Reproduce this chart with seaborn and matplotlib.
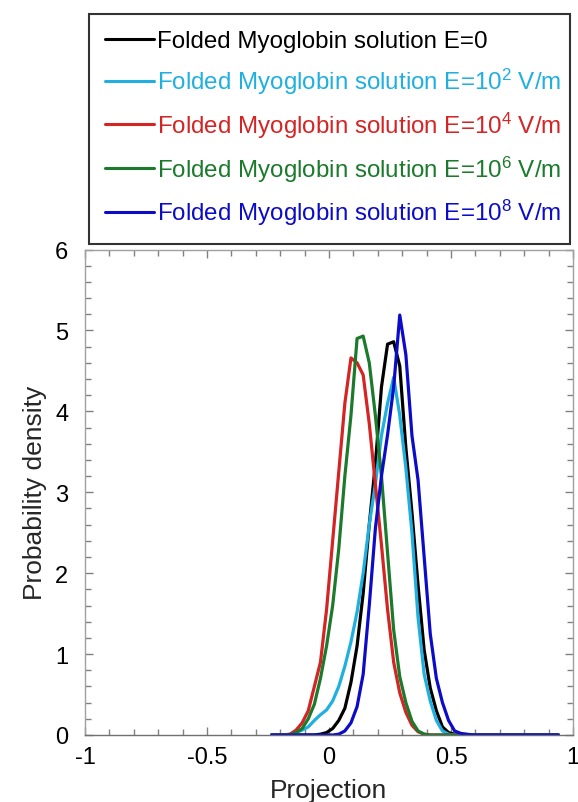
import numpy as np
import pandas as pd
import seaborn as sns
import matplotlib
matplotlib.use("Agg")
import matplotlib.pyplot as plt
from matplotlib.ticker import MultipleLocator

# Projection bins (shared by all curves)
projection = [-0.235, -0.21, -0.185, -0.16, -0.135, -0.11, -0.085, -0.06, -0.035, -0.01,
              0.015, 0.04, 0.065, 0.09, 0.115, 0.14, 0.165, 0.19, 0.215, 0.24,
              0.265, 0.29, 0.315, 0.34, 0.365, 0.39, 0.415, 0.44, 0.465, 0.49,
              0.515, 0.54, 0.565, 0.59, 0.69, 0.79, 0.94]

dens_e0 = [0, 0, 0, 0, 0, 0, 0, 0, 0.01, 0.03,
           0.08, 0.18, 0.33, 0.65, 1.1, 1.75, 2.6, 3.35, 4.3, 4.83,
           4.86, 4.56, 3.55, 2.75, 1.85, 1.05, 0.58, 0.3, 0.1, 0.03,
           0.01, 0, 0, 0, 0, 0, 0]
dens_e2 = [0, 0, 0, 0.01, 0.03, 0.06, 0.1, 0.18, 0.25, 0.31,
           0.42, 0.6, 0.85, 1.15, 1.52, 2.0, 2.6, 3.1, 3.7, 4.1,
           4.42, 3.95, 3.3, 2.5, 1.45, 0.75, 0.42, 0.18, 0.05, 0.01,
           0, 0, 0, 0, 0, 0, 0]
dens_e4 = [0, 0, 0, 0.01, 0.06, 0.15, 0.3, 0.6, 0.9, 1.55,
           2.4, 3.25, 4.1, 4.66, 4.6, 4.45, 3.85, 3.1, 2.35, 1.55,
           0.9, 0.52, 0.28, 0.12, 0.04, 0.01, 0, 0, 0, 0,
           0, 0, 0, 0, 0, 0, 0]
dens_e6 = [0, 0, 0, 0, 0.03, 0.08, 0.2, 0.38, 0.7, 1.1,
           1.6, 2.3, 3.2, 3.95, 4.9, 4.93, 4.6, 3.95, 3.2, 2.25,
           1.3, 0.72, 0.4, 0.17, 0.05, 0.01, 0, 0, 0, 0,
           0, 0, 0, 0, 0, 0, 0]
dens_e8 = [0, 0, 0, 0, 0, 0, 0, 0, 0, 0,
           0, 0.01, 0.05, 0.15, 0.35, 0.75, 1.6, 2.55, 3.2, 3.71,
           4.3, 5.19, 4.7, 3.7, 3.15, 2.2, 1.25, 0.7, 0.4, 0.18,
           0.05, 0.02, 0.01, 0, 0, 0, 0]

labels = ["Folded Myoglobin solution E=0",
          "Folded Myoglobin solution E=10$^{2}$ V/m",
          "Folded Myoglobin solution E=10$^{4}$ V/m",
          "Folded Myoglobin solution E=10$^{6}$ V/m",
          "Folded Myoglobin solution E=10$^{8}$ V/m"]
colors = ["#000000", "#1fb0e0", "#d42424", "#1b7a2c", "#0c0cc8"]
series = [dens_e0, dens_e2, dens_e4, dens_e6, dens_e8]

rows = []
for lab, vals in zip(labels, series):
    for x, y in zip(projection, vals):
        rows.append({"Projection": x, "Density": y, "Serie": lab})
df = pd.DataFrame(rows)

sns.set_style("ticks")
plt.rcParams["font.family"] = ["Liberation Sans", "DejaVu Sans"]
plt.rcParams["mathtext.default"] = "regular"

fig = plt.figure(figsize=(5.78, 8.03), dpi=100)
ax = fig.add_axes([85 / 578, 1 - 736 / 803, 488 / 578, (736 - 250.5) / 803])

sns.lineplot(data=df, x="Projection", y="Density", hue="Serie", hue_order=labels,
             palette=dict(zip(labels, colors)), sort=False, linewidth=2.3, ax=ax)

ax.set_xlim(-1, 1)
ax.set_ylim(0, 6)
ax.xaxis.set_major_locator(MultipleLocator(0.5))
ax.xaxis.set_minor_locator(MultipleLocator(0.1))
ax.yaxis.set_major_locator(MultipleLocator(1))
ax.yaxis.set_minor_locator(MultipleLocator(0.2))
ax.xaxis.set_major_formatter(plt.FuncFormatter(lambda v, p: f"{v:g}"))

for sp in ax.spines.values():
    sp.set_visible(True)
    sp.set_color("#a0a0a0")
    sp.set_linewidth(1.0)
ax.spines["bottom"].set_color("#707070")

ax.tick_params(which="both", direction="in", top=True, right=True, colors="#808080",
               labelcolor="black", labelsize=17)
ax.tick_params(which="major", length=6, width=1)
ax.tick_params(which="minor", length=4, width=1)
ax.tick_params(axis="x", pad=8)
ax.tick_params(axis="y", pad=12)

ax.set_xlabel("Projection", fontsize=19, labelpad=7)
ax.set_ylabel("Probability density", fontsize=19, labelpad=6)

handles, labs = ax.get_legend_handles_labels()
ax.get_legend().remove()
leg = fig.legend(handles, labs, loc="upper left",
                 bbox_to_anchor=(89 / 578, 1 - 15 / 803, (570 - 89) / 578, 0),
                 mode="expand", fontsize=17.4, labelcolor="linecolor",
                 frameon=True, fancybox=False, edgecolor="black",
                 handlelength=2.0, handletextpad=0.15, labelspacing=0.56,
                 borderpad=0.68, borderaxespad=0)
leg.get_frame().set_linewidth(1.5)
for h in leg.get_lines():
    h.set_linewidth(2.2)

fig.savefig("out.png", dpi=100)
